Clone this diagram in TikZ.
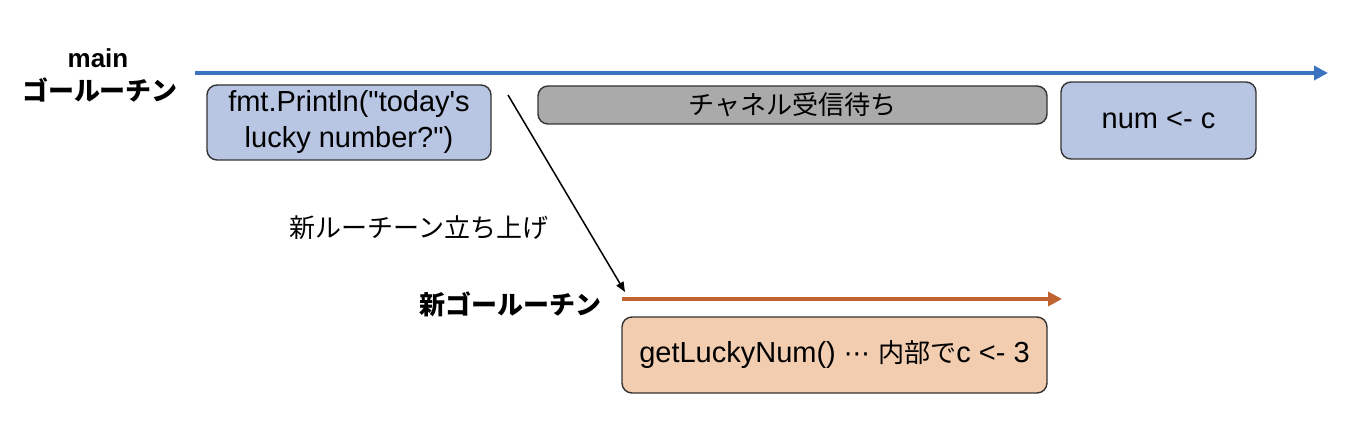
\documentclass[tikz,border=0pt]{standalone}
\usepackage{fontspec}
\usepackage{xcolor}
\usetikzlibrary{arrows.meta}
\newfontfamily\lat{Liberation Sans}
\newfontfamily\jp{Noto Sans CJK JP}
\newfontfamily\jps{Noto Sans CJK JP}[Scale=0.9]
\newfontfamily\symb{DejaVu Sans}[Scale=0.9]
\definecolor{mainblue}{HTML}{3B73C1}
\definecolor{boxblue}{HTML}{B8C6E3}
\definecolor{boxgray}{HTML}{AAAAAA}
\definecolor{subbrown}{HTML}{BF6330}
\definecolor{boxpeach}{HTML}{F3CDB0}
\definecolor{edgegray}{HTML}{333333}

\begin{document}
\begin{tikzpicture}[x=0.5pt, y=-0.5pt,
    lane/.style={font=\lat\fontsize{13}{16}\selectfont\bfseries, align=center},
    timeline/.style={line width=1.8pt, -{Triangle[length=7pt,width=7pt]}},
    task/.style={draw=edgegray, line width=0.7pt, rounded corners=5pt, align=center,
        inner sep=0pt, font=\lat\fontsize{14.5}{18}\selectfont}]
    \useasboundingbox (0,0) rectangle (1360,444);

    % main goroutine
    \node[lane] (mainlbl) at (98,58) {main};
    \node[lane, font=\jp\fontsize{13}{16}\selectfont\bfseries] (mainlbl2) at (100,90) {ゴールーチン};
    \coordinate (mainL) at (195,73);
    \coordinate (mainR) at (1328,73);
    \draw[timeline, mainblue] (mainL) -- (mainR);

    \node[task, fill=boxblue, minimum width=142pt, minimum height=37.5pt] (println) at (349,122.5)
        {fmt.Println("today's\\lucky number?")};
    \node[task, fill=boxgray, minimum width=254.5pt, minimum height=19pt] (wait) at (792.5,105)
        {\jps チャネル受信待ち};
    \node[task, fill=boxblue, minimum width=97.5pt, minimum height=38.5pt] (recv) at (1158.5,120.5)
        {num <- c};

    % spawn
    \coordinate (spawn) at (508,95);
    \coordinate (subL) at (622,299);
    \coordinate (subR) at (1062,299);
    \draw[line width=0.75pt, -{Triangle[length=5pt,width=4pt]}] (spawn) -- ([xshift=1.5pt,yshift=3.5pt]subL);
    \node[font=\jp\fontsize{13}{16}\selectfont] (spawnlbl) at (419,228) {新ルーチーン立ち上げ};

    % new goroutine
    \node[lane, font=\jp\fontsize{13}{16}\selectfont\bfseries] (sublbl) at (510,304) {新ゴールーチン};
    \draw[timeline, subbrown] (subL) -- (subR);
    \node[task, fill=boxpeach, minimum width=212.5pt, minimum height=38pt] (lucky) at (834.5,355)
        {getLuckyNum() {\symb ⋯}\ {\jps 内部で}c <- 3};
\end{tikzpicture}
\end{document}
